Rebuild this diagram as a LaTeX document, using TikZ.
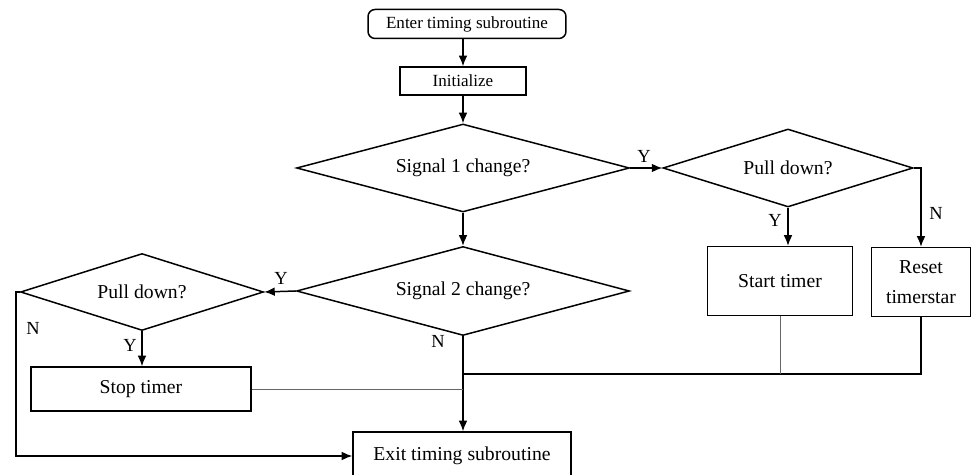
\documentclass[tikz,border=0pt]{standalone}
\usepackage{fontspec}
\setmainfont{Liberation Serif}
\usetikzlibrary{shapes.geometric, positioning, arrows.meta}

\tikzset{
    box/.style={draw, rectangle, inner sep=0pt, align=center},
    decision/.style={draw, diamond, inner sep=0pt, aspect=3.8},
    thinline/.style={line width=0.45pt, gray!80!black},
    lbl/.style={font=\fontsize{10.5}{12}\selectfont}
}

\begin{document}
\begin{tikzpicture}[>={Latex[length=6pt,width=5pt]}, x=0.02cm, y=-0.02cm, line width=0.85pt,
    font=\fontsize{11.2}{17}\selectfont]
    \useasboundingbox (0,0) rectangle (972,475);
    % 1. Khung và điều kiện
    \node[box, rounded corners=4pt, minimum width=3.96cm, minimum height=0.58cm,
        font=\fontsize{9.7}{11}\selectfont] (enter) at (467,24) {Enter timing subroutine};
    \node[box, minimum width=2.52cm, minimum height=0.56cm,
        font=\fontsize{9.7}{11}\selectfont] (init) at (463,81) {Initialize};
    \node[decision, minimum width=6.66cm, minimum height=1.76cm] (sig1) at (463,168) {Signal 1 change?};
    \node[decision, minimum width=5.0cm, minimum height=1.56cm] (pullR) at (788,168) {Pull down?};
    \node[box, minimum width=2.9cm, minimum height=1.38cm] (start) at (780,281) {Start timer};
    \node[box, minimum width=1.98cm, minimum height=1.38cm] (reset) at (921,282) {Reset\\timerstar};
    \node[decision, minimum width=6.66cm, minimum height=1.78cm] (sig2) at (463,291) {Signal 2 change?};
    \node[decision, minimum width=4.86cm, minimum height=1.54cm] (pullL) at (142,292) {Pull down?};
    \node[box, minimum width=4.4cm, minimum height=0.88cm] (stop) at (141,389) {Stop timer};
    \node[box, minimum width=4.36cm, minimum height=0.96cm] (exit) at (462,456) {Exit timing subroutine};

    % 2. Mũi tên
    \draw[->] (init.north |- enter.south) -- (init);
    \draw[->] (init) -- (sig1);
    \draw[->] (sig1) -- (sig2);
    \draw[->] (sig1.east) -- (pullR.west);
    \draw[->] (pullR.south) -- (pullR.south |- start.north);
    \draw[->] (pullR.east) -| (reset.north);
    \draw[->] (sig2.west) -- (pullL.east);
    \draw[->] (pullL.south) -- (pullL.south |- stop.north);
    \coordinate (leftN) at (16,292);
    \draw[->] (pullL.west) -- (leftN) |- (exit.west);
    \draw[->] (sig2.south) -- (sig2.south |- exit.north);

    % 3. Nhập lại
    \coordinate (merge) at (463,374);
    \draw (reset.south) |- (merge);
    \draw[thinline] (start.south) -- (start.south |- merge);
    \draw[thinline] (stop.east) -- (stop.east -| sig2.south);

    % 4. Nhãn Y / N
    \node[lbl] (y1) at (644,156) {Y};
    \node[lbl] (y2) at (775,220) {Y};
    \node[lbl] (n1) at (936,213) {N};
    \node[lbl] (y3) at (281,278) {Y};
    \node[lbl] (y4) at (130,345) {Y};
    \node[lbl] (n2) at (33,328) {N};
    \node[lbl] (n3) at (438,341) {N};
\end{tikzpicture}
\end{document}
